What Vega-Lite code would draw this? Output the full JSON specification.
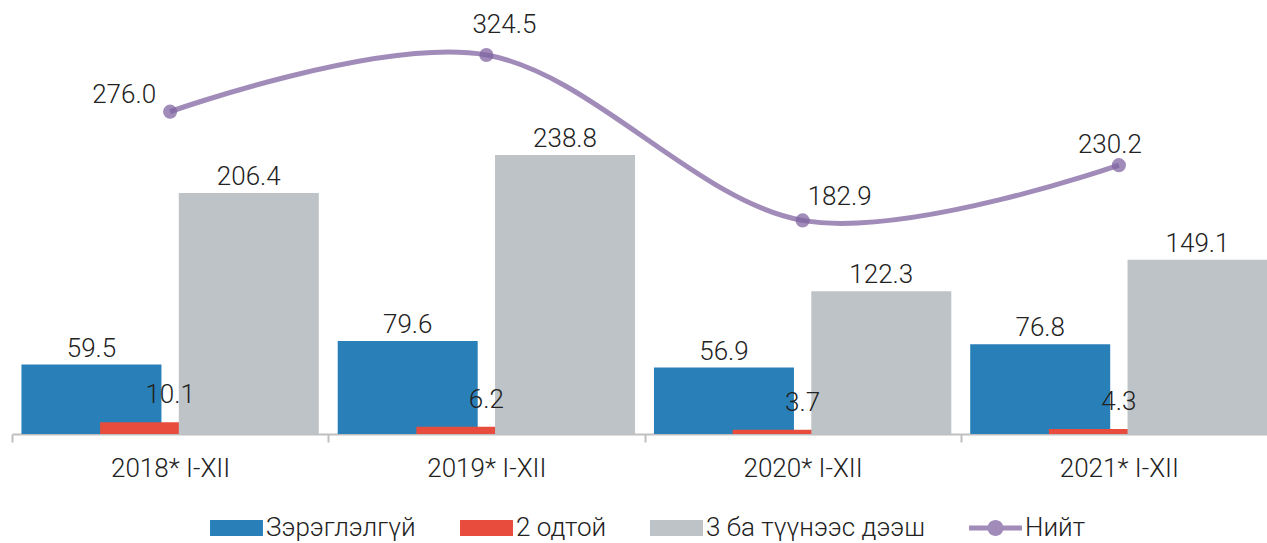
{
  "$schema": "https://vega.github.io/schema/vega-lite/v6.json",
  "autosize": "none",
  "padding": {"left": 12, "top": 0, "right": 0, "bottom": 109},
  "width": 1265,
  "height": 434,
  "config": {
    "view": {"stroke": null},
    "font": "Roboto",
    "text": {"font": "Roboto", "fontSize": 26, "fontWeight": 300, "color": "#222222"}
  },
  "data": {
    "values": [
      {"cat": "2018* I-XII", "series": "Зэрэглэлгүй", "value": 59.5},
      {"cat": "2019* I-XII", "series": "Зэрэглэлгүй", "value": 79.6},
      {"cat": "2020* I-XII", "series": "Зэрэглэлгүй", "value": 56.9},
      {"cat": "2021* I-XII", "series": "Зэрэглэлгүй", "value": 76.8},
      {"cat": "2018* I-XII", "series": "2 одтой", "value": 10.1},
      {"cat": "2019* I-XII", "series": "2 одтой", "value": 6.2},
      {"cat": "2020* I-XII", "series": "2 одтой", "value": 3.7},
      {"cat": "2021* I-XII", "series": "2 одтой", "value": 4.3},
      {"cat": "2018* I-XII", "series": "3 ба түүнээс дээш", "value": 206.4},
      {"cat": "2019* I-XII", "series": "3 ба түүнээс дээш", "value": 238.8},
      {"cat": "2020* I-XII", "series": "3 ба түүнээс дээш", "value": 122.3},
      {"cat": "2021* I-XII", "series": "3 ба түүнээс дээш", "value": 149.1},
      {"cat": "2018* I-XII", "series": "Нийт", "value": 276.0},
      {"cat": "2019* I-XII", "series": "Нийт", "value": 324.5},
      {"cat": "2020* I-XII", "series": "Нийт", "value": 182.9},
      {"cat": "2021* I-XII", "series": "Нийт", "value": 230.2}
    ]
  },
  "encoding": {
    "x": {
      "field": "cat", "type": "nominal", "sort": null,
      "scale": {"paddingInner": 0, "paddingOuter": 0},
      "axis": {
        "title": null, "labelAngle": 0, "tickBand": "extent",
        "domainColor": "#bfbfbf", "domainWidth": 2,
        "tickColor": "#bfbfbf", "tickWidth": 2, "tickSize": 8,
        "labelFont": "Roboto", "labelFontSize": 26, "labelFontWeight": 300,
        "labelColor": "#222222", "labelPadding": 13
      }
    },
    "y": {
      "field": "value", "type": "quantitative",
      "scale": {"domain": [0, 371.6], "nice": false, "zero": true},
      "axis": null
    }
  },
  "layer": [
    {
      "transform": [{"filter": "datum.series !== 'Нийт'"}],
      "mark": {"type": "bar", "width": 140},
      "encoding": {
        "xOffset": {
          "field": "series", "type": "nominal",
          "scale": {"domain": ["Зэрэглэлгүй", "2 одтой", "3 ба түүнээс дээш"], "paddingInner": 0, "paddingOuter": 0.51}
        },
        "color": {
          "field": "series", "type": "nominal",
          "scale": {
            "domain": ["Зэрэглэлгүй", "2 одтой", "3 ба түүнээс дээш", "Нийт"],
            "range": ["#2980b9", "#e74c3c", "#bdc3c7", "#8064a2"]
          },
          "legend": {
            "title": null, "orient": "none", "direction": "horizontal", "columns": 4,
            "legendX": 211.5, "legendY": 515, "padding": 0,
            "symbolSize": 256, "columnPadding": 43, "labelOffset": 16.5,
            "labelFont": "Roboto", "labelFontSize": 26, "labelFontWeight": 300, "labelColor": "#222222",
            "labelLimit": 400,
            "encode": {
              "symbols": {
                "update": {
                  "shape": {"signal": "datum.value === 'Нийт' ? 'M-3.31,-0.31H3.31V0.31H-3.31Z M-1,0A1,1 0 1,1 1,0A1,1 0 1,1 -1,0Z' : 'M-3.31,-1H3.31V1H-3.31Z'"},
                  "fill": {"signal": "scale('color', datum.value)"},
                  "fillOpacity": {"signal": "datum.value === 'Нийт' ? 0.75 : 1"},
                  "opacity": {"value": 1},
                  "strokeWidth": {"value": 0}
                }
              }
            }
          }
        }
      }
    },
    {
      "transform": [{"filter": "datum.series === 'Зэрэглэлгүй' || datum.series === '3 ба түүнээс дээш'"}],
      "mark": {"type": "text", "baseline": "alphabetic", "dy": -8},
      "encoding": {
        "xOffset": {"field": "series", "type": "nominal"},
        "text": {"field": "value", "type": "quantitative", "format": ".1f"}
      }
    },
    {
      "transform": [{"filter": "datum.series === '2 одтой'"}],
      "mark": {"type": "text", "baseline": "alphabetic", "dy": -19},
      "encoding": {
        "xOffset": {"field": "series", "type": "nominal"},
        "text": {"field": "value", "type": "quantitative", "format": ".1f"}
      }
    },
    {
      "transform": [{"filter": "datum.series === 'Нийт'"}],
      "mark": {"type": "line", "interpolate": "cardinal", "strokeWidth": 5, "opacity": 0.75},
      "encoding": {
        "color": {"field": "series", "type": "nominal"}
      }
    },
    {
      "transform": [{"filter": "datum.series === 'Нийт'"}],
      "mark": {"type": "point", "filled": true, "size": 200, "opacity": 0.75},
      "encoding": {
        "color": {"field": "series", "type": "nominal"}
      }
    },
    {
      "transform": [{"filter": "datum.series === 'Нийт' && datum.cat === '2018* I-XII'"}],
      "mark": {"type": "text", "baseline": "alphabetic", "align": "center", "dx": -46, "dy": -9},
      "encoding": {"text": {"field": "value", "type": "quantitative", "format": ".1f"}}
    },
    {
      "transform": [{"filter": "datum.series === 'Нийт' && datum.cat === '2019* I-XII'"}],
      "mark": {"type": "text", "baseline": "alphabetic", "align": "center", "dx": 18, "dy": -22},
      "encoding": {"text": {"field": "value", "type": "quantitative", "format": ".1f"}}
    },
    {
      "transform": [{"filter": "datum.series === 'Нийт' && datum.cat === '2020* I-XII'"}],
      "mark": {"type": "text", "baseline": "alphabetic", "align": "center", "dx": 37, "dy": -15},
      "encoding": {"text": {"field": "value", "type": "quantitative", "format": ".1f"}}
    },
    {
      "transform": [{"filter": "datum.series === 'Нийт' && datum.cat === '2021* I-XII'"}],
      "mark": {"type": "text", "baseline": "alphabetic", "align": "center", "dx": -9, "dy": -12},
      "encoding": {"text": {"field": "value", "type": "quantitative", "format": ".1f"}}
    }
  ]
}
